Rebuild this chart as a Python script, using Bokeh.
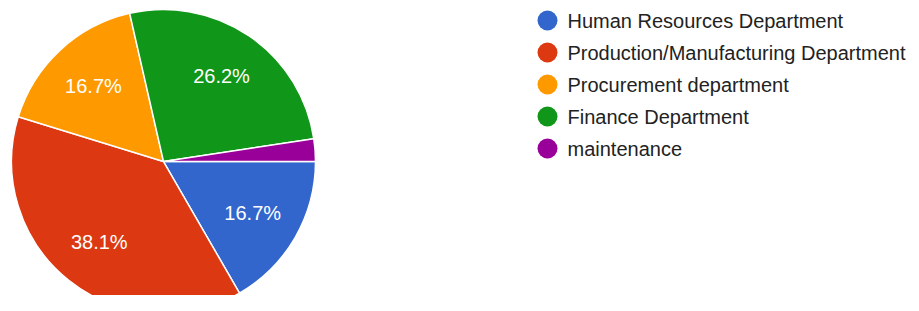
import math
from bokeh.plotting import figure
from bokeh.models import Range1d, ColumnDataSource
from bokeh.core.properties import value
from bokeh.embed import file_html
from bokeh.resources import INLINE

categories = ["Human Resources Department", "Production/Manufacturing Department",
              "Procurement department", "Finance Department", "maintenance"]
counts = [7, 16, 7, 11, 1]
colors = ["#3366cc", "#dc3912", "#ff9900", "#109618", "#990099"]

W, H = 910, 295
CX, CY, R = 163, H - 161, 152
LABEL_R = 103

total = sum(counts)
starts, ends, lx, ly, labels = [], [], [], [], []
a = 0.0
for c in counts:
    sweep = 2 * math.pi * c / total
    starts.append(a - sweep)
    ends.append(a)
    mid = a - sweep / 2
    pct = 100.0 * c / total
    if pct >= 5:
        lx.append(CX + LABEL_R * math.cos(mid))
        ly.append(CY + LABEL_R * math.sin(mid))
        labels.append(f"{pct:.1f}%")
    a -= sweep

p = figure(width=W, height=H, output_backend="svg", toolbar_location=None,
           x_range=Range1d(0, W), y_range=Range1d(0, H), min_border=0,
           outline_line_color=None)
p.axis.visible = False
p.grid.visible = False
p.background_fill_color = "white"

src = ColumnDataSource(dict(start=starts, end=ends, color=colors))
p.wedge(x=CX, y=CY, radius=R, start_angle="start", end_angle="end",
        fill_color="color", line_color="white", line_width=1.5, source=src)

p.text(x=lx, y=ly, text=labels, text_color="white", text_align="center",
       text_baseline="middle", text_font=value("Liberation Sans"), text_font_size="20px")

# legend
LX, LY0, DY = 547, H - 20, 32
leg_y = [LY0 - i * DY for i in range(len(categories))]
p.scatter(x=[LX] * len(categories), y=leg_y, marker="circle", size=20,
          fill_color=colors, line_color=None)
p.text(x=[LX + 20] * len(categories), y=leg_y, text=categories, text_color="#222222",
       text_align="left", text_baseline="middle", text_font=value("Liberation Sans"),
       text_font_size="20px")

open("out.html", "w").write(file_html(p, INLINE))
